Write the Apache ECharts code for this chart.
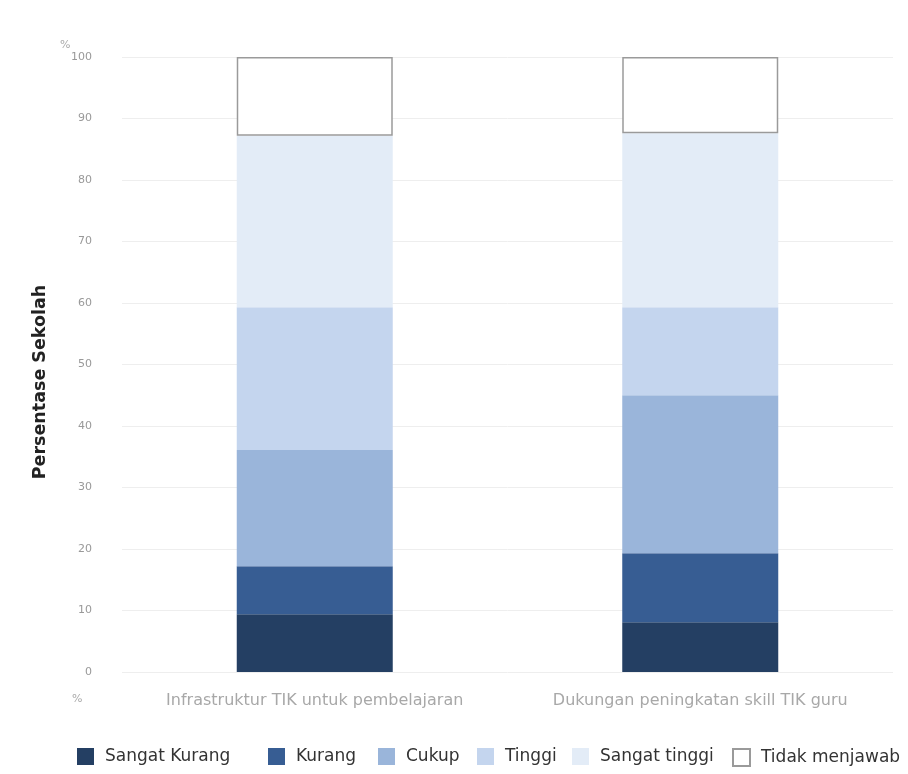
<!DOCTYPE html>
<html>
<head>
<meta charset="utf-8">
<script src="https://cdn.jsdelivr.net/npm/echarts@6/dist/echarts.min.js"></script>
<style>
  html, body { margin: 0; padding: 0; background: #fff; }
  #chart { width: 908px; height: 774px; }
</style>
</head>
<body>
<div id="chart"></div>
<script>
// Kategori aspek yang dinilai
const categories = ['Infrastruktur TIK untuk pembelajaran', 'Dukungan peningkatan skill TIK guru'];

// Persentase sekolah per tingkat penilaian (bertumpuk hingga 100%)
const sangatKurang  = [9.4, 8.1];
const kurang        = [7.8, 11.2];
const cukup         = [18.9, 25.7];
const tinggi        = [23.2, 14.3];
const sangatTinggi  = [27.9, 28.3];
const tidakMenjawab = [12.8, 12.4];

const yTicks = [0, 10, 20, 30, 40, 50, 60, 70, 80, 90, 100];

const seriesDefs = [
  { name: 'Sangat Kurang', data: sangatKurang, color: '#243f63' },
  { name: 'Kurang', data: kurang, color: '#375d93' },
  { name: 'Cukup', data: cukup, color: '#9ab5da' },
  { name: 'Tinggi', data: tinggi, color: '#c4d5ee' },
  { name: 'Sangat tinggi', data: sangatTinggi, color: '#e3ecf7' },
  { name: 'Tidak menjawab', data: tidakMenjawab, color: '#ffffff', border: '#9a9a9a' }
];

// Posisi kiri tiap entri legenda
const legendLeft = [77, 268, 378, 477, 572, 732];

const font = '"DejaVu Sans", sans-serif';
const chart = echarts.init(document.getElementById('chart'));

chart.setOption({
  animation: false,
  textStyle: { fontFamily: font },
  grid: { left: 122, right: 15, top: 57, bottom: 102 },
  legend: seriesDefs.map((s, i) => ({
    left: legendLeft[i],
    top: 748,
    padding: 0,
    itemWidth: 17,
    itemHeight: 17,
    icon: 'rect',
    textStyle: { fontSize: 17, color: '#333', fontFamily: font, padding: [0, 0, 0, 6] },
    data: [s.name]
  })),
  xAxis: {
    type: 'category',
    data: categories,
    axisLine: { show: false },
    axisTick: { show: false },
    axisLabel: { color: '#a8a8a8', fontSize: 16, margin: 21, interval: 0 }
  },
  yAxis: {
    type: 'value',
    min: 0,
    max: 100,
    interval: 10,
    axisLine: { show: false },
    axisTick: { show: false },
    axisLabel: {
      color: '#999', fontSize: 11, margin: 30,
      formatter: v => yTicks.includes(v) ? String(v) : ''
    },
    splitLine: { lineStyle: { color: '#eeeeee', width: 1 } }
  },
  graphic: [
    {
      type: 'text', x: 40, y: 382, rotation: Math.PI / 2,
      style: {
        text: 'Persentase Sekolah', fill: '#222',
        font: 'bold 17.5px ' + font, align: 'center', verticalAlign: 'middle'
      }
    },
    { type: 'text', left: 60, top: 40, style: { text: '%', fill: '#aaa', font: '11px ' + font } },
    { type: 'text', left: 72, top: 694, style: { text: '%', fill: '#aaa', font: '11px ' + font } }
  ],
  series: seriesDefs.map(s => ({
    name: s.name,
    type: 'bar',
    stack: 'total',
    barWidth: 156,
    data: s.data,
    itemStyle: {
      color: s.color,
      borderColor: s.border || s.color,
      borderWidth: s.border ? 1.5 : 0
    }
  }))
});
</script>
</body>
</html>
